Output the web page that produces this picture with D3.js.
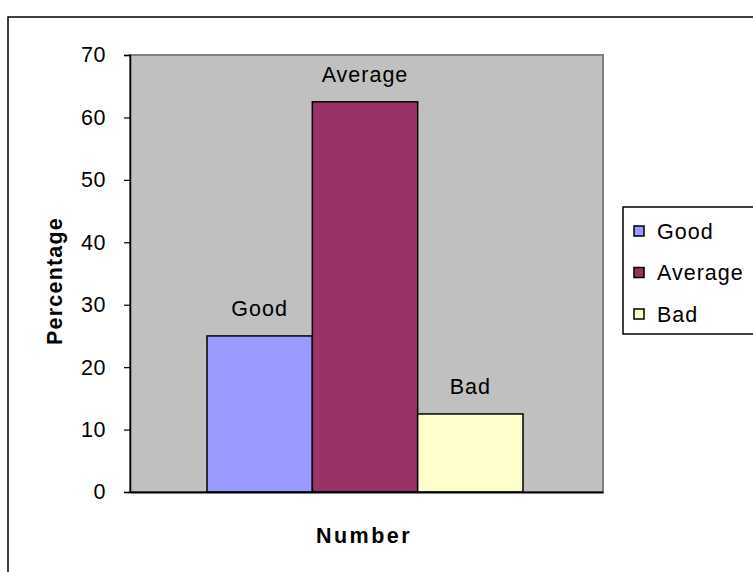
<!DOCTYPE html>
<html><head><meta charset="utf-8">
<script src="https://cdn.jsdelivr.net/npm/d3@7"></script>
<style>body{margin:0;background:#fff}svg text{font-family:"Liberation Sans",Arial,sans-serif}</style>
</head><body>
<script>
const categories = ["Good", "Average", "Bad"];
const values = [25, 62.5, 12.5];
const colors = ["#9999FF", "#993366", "#FFFFCC"];
const yTicks = [0, 10, 20, 30, 40, 50, 60, 70];
const xTitle = "Number";
const yTitle = "Percentage";

const W = 753, H = 572;
const FS = 21.5;
const svg = d3.select("body").append("svg").attr("width", W).attr("height", H);

// outer chart border
svg.append("rect").attr("x", 8).attr("y", 17).attr("width", 780).attr("height", 600)
  .attr("fill", "#fff").attr("stroke", "#000").attr("stroke-width", 1.5);

const plot = {left: 130, right: 603, top: 55, bottom: 492};
const y = d3.scaleLinear().domain([0, 70]).range([plot.bottom, plot.top]);
const x = d3.scaleBand().domain(categories).range([207, 523]).padding(0);

// plot area
svg.append("rect").attr("x", plot.left).attr("y", plot.top)
  .attr("width", plot.right - plot.left).attr("height", plot.bottom - plot.top)
  .attr("fill", "#C0C0C0").attr("stroke", "#808080").attr("stroke-width", 2);

// bars
svg.selectAll("rect.bar").data(categories).join("rect").attr("class", "bar")
  .attr("x", d => x(d)).attr("width", x.bandwidth())
  .attr("y", (d, i) => y(values[i])).attr("height", (d, i) => y(0) - y(values[i]))
  .attr("fill", (d, i) => colors[i]).attr("stroke", "#000").attr("stroke-width", 1.5);

// data labels
svg.selectAll("text.lbl").data(categories).join("text").attr("class", "lbl")
  .attr("x", d => x(d) + x.bandwidth() / 2).attr("y", (d, i) => y(values[i]) - 20)
  .attr("text-anchor", "middle").attr("font-size", FS).attr("letter-spacing", 1).text(d => d);

// y axis
const yAxis = d3.axisLeft(y).tickValues(yTicks).tickSize(6).tickPadding(18);
const gy = svg.append("g").attr("transform", `translate(${plot.left},0)`).call(yAxis);
gy.select(".domain").attr("stroke", "#000").attr("stroke-width", 1.5);
gy.selectAll(".tick line").attr("stroke", "#000").attr("stroke-width", 1.2);
gy.selectAll(".tick text").attr("font-size", FS).attr("fill", "#000").attr("letter-spacing", 0.5)
  .style("font-family", "'Liberation Sans', Arial, sans-serif");

// x axis baseline
const xAxis = d3.axisBottom(d3.scaleLinear().range([plot.left, plot.right])).ticks(0).tickSizeOuter(0);
const gx = svg.append("g").attr("transform", `translate(0,${plot.bottom})`).call(xAxis);
gx.select(".domain").attr("stroke", "#000").attr("stroke-width", 2);

// titles
svg.append("text").attr("x", 364).attr("y", 543)
  .attr("text-anchor", "middle").attr("font-size", FS).attr("font-weight", "bold")
  .attr("letter-spacing", 2.5).text(xTitle);
svg.append("text").attr("transform", `translate(62,281) rotate(-90)`)
  .attr("text-anchor", "middle").attr("font-size", FS).attr("font-weight", "bold")
  .attr("letter-spacing", 1.2).text(yTitle);

// legend
const lg = svg.append("g");
lg.append("rect").attr("x", 623).attr("y", 207).attr("width", 140).attr("height", 127)
  .attr("fill", "#fff").attr("stroke", "#000").attr("stroke-width", 1.5);
const ly = d3.scalePoint().domain(categories).range([231, 314]);
lg.selectAll("rect.sw").data(categories).join("rect").attr("class", "sw")
  .attr("x", 634).attr("y", d => ly(d) - 5).attr("width", 10).attr("height", 10)
  .attr("fill", (d, i) => colors[i]).attr("stroke", "#000").attr("stroke-width", 1.5);
lg.selectAll("text.lt").data(categories).join("text").attr("class", "lt")
  .attr("x", 657).attr("y", d => ly(d)).attr("dy", "0.36em")
  .attr("font-size", FS).attr("letter-spacing", 1).text(d => d);
</script>
</body></html>
